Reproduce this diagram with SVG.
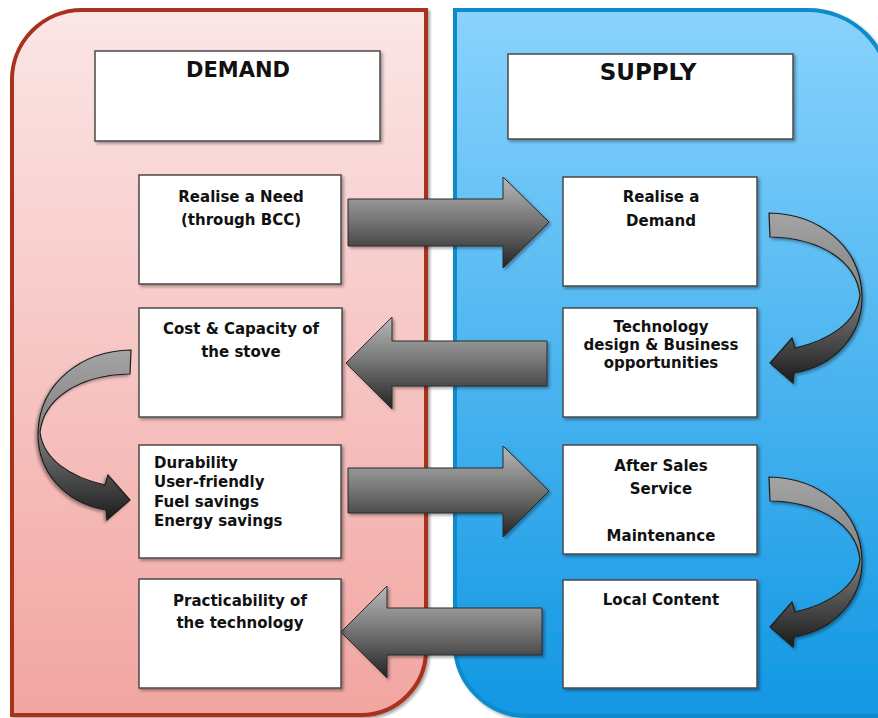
<svg xmlns="http://www.w3.org/2000/svg" xmlns:xlink="http://www.w3.org/1999/xlink" width="878" height="718" viewBox="0 0 878 718">
<defs>
<style>
.box{fill:#ffffff;stroke:#4a4a4a;stroke-width:1.5;}
.t{font-family:"DejaVu Sans",Verdana,"Liberation Sans",sans-serif;font-weight:bold;font-size:15px;fill:#111;}
.c{text-anchor:middle;}
.blk{fill:url(#gArrow);stroke:#2a2a2a;stroke-width:1;}
.crv{fill:url(#gCurve);stroke:#1e1e1e;stroke-width:1.2;}
</style>
<linearGradient id="gRed" x1="0" y1="0" x2="0" y2="1">
<stop offset="0" stop-color="#fbe6e6"/>
<stop offset="1" stop-color="#f2a5a1"/>
</linearGradient>
<linearGradient id="gBlue" x1="0" y1="0" x2="0" y2="1">
<stop offset="0" stop-color="#89d3fd"/>
<stop offset="1" stop-color="#1197e3"/>
</linearGradient>
<linearGradient id="gArrow" x1="0" y1="0" x2="0" y2="1">
<stop offset="0" stop-color="#b8b8b8"/>
<stop offset="0.45" stop-color="#7a7a7a"/>
<stop offset="1" stop-color="#232323"/>
</linearGradient>
<linearGradient id="gCurve" x1="0" y1="0" x2="0" y2="1">
<stop offset="0" stop-color="#a4a4a4"/>
<stop offset="0.45" stop-color="#858585"/>
<stop offset="1" stop-color="#1c1c1c"/>
</linearGradient>
<filter id="sh" x="-10%" y="-10%" width="130%" height="130%">
<feDropShadow dx="2" dy="2" stdDeviation="1.5" flood-color="#000" flood-opacity="0.35"/>
</filter>
<path id="curveArrow" class="crv" d="M769,213 C818,214 860,245 862,295 C863,335 835,366 794,373 L793,383 L770,363 L792,338 L795,348 C830,340 857,322 860,295 C856,262 822,238 770,237 Z"/>
</defs>

<g id="panel-demand">
<path d="M12,82 A70,70 0 0 1 82,10 L426,10 L426,650 A65,65 0 0 1 361,715 L12,715 Z" fill="url(#gRed)" stroke="#a8301f" stroke-width="4" filter="url(#sh)"/>
</g>
<g id="panel-supply">
<path d="M455,10 L808,10 A82,82 0 0 1 890,92 L890,716 L527,716 A72,72 0 0 1 455,644 Z" fill="url(#gBlue)" stroke="#0c8bcb" stroke-width="4" filter="url(#sh)"/>
</g>

<g id="hdr-demand">
<rect class="box" x="95" y="51" width="285" height="90" filter="url(#sh)"/>
<text class="t c" x="238" y="77" style="font-size:21px">DEMAND</text>
</g>
<g id="hdr-supply">
<rect class="box" x="508" y="54" width="285" height="85" filter="url(#sh)"/>
<text class="t c" x="648" y="80" style="font-size:23px">SUPPLY</text>
</g>

<g id="connectors">
<path class="blk" filter="url(#sh)" d="M348,199 L503,199 L503,177 L549,222 L503,268 L503,246 L348,246 Z"/>
<path class="blk" filter="url(#sh)" d="M547,341 L392,341 L392,317 L346,363 L392,409 L392,386 L547,386 Z"/>
<path class="blk" filter="url(#sh)" d="M348,468 L503,468 L503,446 L549,491 L503,537 L503,513 L348,513 Z"/>
<path class="blk" filter="url(#sh)" d="M542,608 L387,608 L387,586 L341,632 L387,678 L387,655 L542,655 Z"/>
<use xlink:href="#curveArrow" href="#curveArrow" filter="url(#sh)"/>
<use xlink:href="#curveArrow" href="#curveArrow" transform="translate(0,264)" filter="url(#sh)"/>
<use xlink:href="#curveArrow" href="#curveArrow" transform="translate(900,137) scale(-1,1)" filter="url(#sh)"/>
</g>

<g id="n-need">
<rect class="box" x="139" y="175" width="202" height="109" filter="url(#sh)"/>
<text class="t c" x="241" y="202">Realise a Need</text>
<text class="t c" x="241" y="225">(through BCC)</text>
</g>
<g id="n-cost">
<rect class="box" x="139" y="308" width="203" height="109" filter="url(#sh)"/>
<text class="t c" x="241" y="334">Cost &amp; Capacity of</text>
<text class="t c" x="241" y="357">the stove</text>
</g>
<g id="n-durability">
<rect class="box" x="139" y="445" width="202" height="113" filter="url(#sh)"/>
<text class="t" x="154" y="468">Durability</text>
<text class="t" x="154" y="487">User-friendly</text>
<text class="t" x="154" y="507">Fuel savings</text>
<text class="t" x="154" y="526">Energy savings</text>
</g>
<g id="n-practicability">
<rect class="box" x="139" y="579" width="202" height="109" filter="url(#sh)"/>
<text class="t c" x="240" y="606">Practicability of</text>
<text class="t c" x="240" y="628">the technology</text>
</g>

<g id="n-demand">
<rect class="box" x="563" y="177" width="194" height="109" filter="url(#sh)"/>
<text class="t c" x="661" y="202">Realise a</text>
<text class="t c" x="661" y="226">Demand</text>
</g>
<g id="n-technology">
<rect class="box" x="563" y="308" width="194" height="109" filter="url(#sh)"/>
<text class="t c" x="661" y="332">Technology</text>
<text class="t c" x="661" y="350">design &amp; Business</text>
<text class="t c" x="661" y="368">opportunities</text>
</g>
<g id="n-aftersales">
<rect class="box" x="563" y="445" width="194" height="109" filter="url(#sh)"/>
<text class="t c" x="661" y="471">After Sales</text>
<text class="t c" x="661" y="494">Service</text>
<text class="t c" x="661" y="541">Maintenance</text>
</g>
<g id="n-local">
<rect class="box" x="563" y="580" width="194" height="108" filter="url(#sh)"/>
<text class="t c" x="661" y="605">Local Content</text>
</g>
</svg>
